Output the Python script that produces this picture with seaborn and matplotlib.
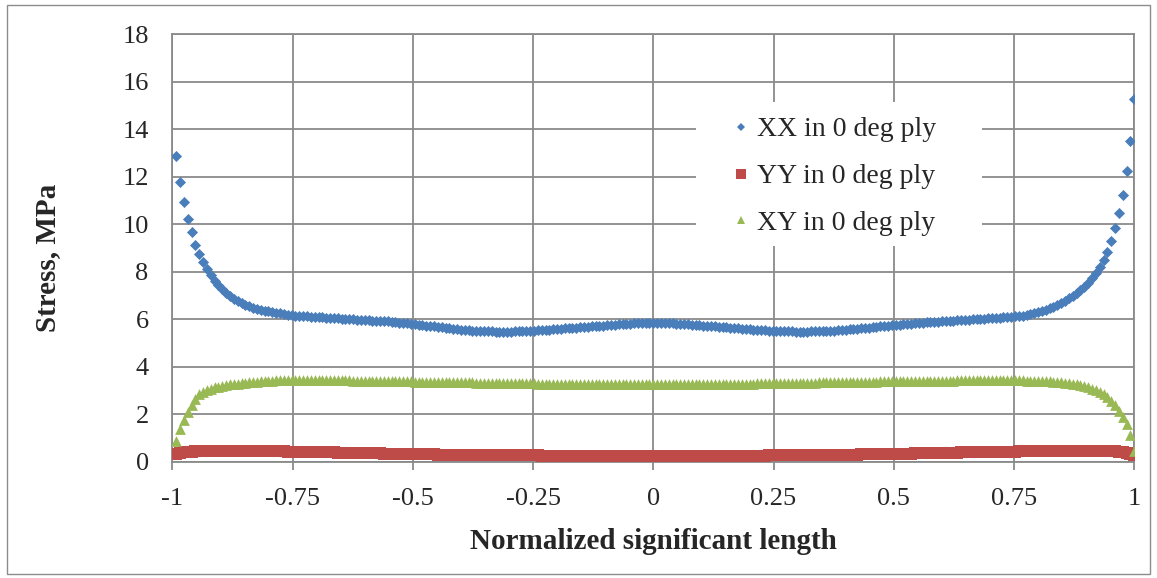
import numpy as np
import pandas as pd
import matplotlib
matplotlib.use("Agg")
import matplotlib.pyplot as plt
from matplotlib.lines import Line2D
from matplotlib.patches import Rectangle
import seaborn as sns

# ---------------- data ----------------
# sample positions along the normalized length (250 stations, step 0.008)
positions = np.round(np.arange(1, 251) * 0.008 - 1.0, 3)

xx_stress = [
    12.87, 11.79, 10.92, 10.22, 9.66, 9.13, 8.73, 8.40, 8.10, 7.85,
    7.63, 7.44, 7.27, 7.12, 6.98, 6.87, 6.77, 6.68, 6.61, 6.55,
    6.49, 6.44, 6.40, 6.36, 6.33, 6.30, 6.27, 6.25, 6.22, 6.20,
    6.18, 6.16, 6.15, 6.13, 6.12, 6.11, 6.10, 6.09, 6.08, 6.07,
    6.06, 6.05, 6.04, 6.03, 6.02, 6.01, 6.00, 5.99, 5.98, 5.97,
    5.96, 5.95, 5.94, 5.93, 5.92, 5.91, 5.89, 5.88, 5.86, 5.85,
    5.83, 5.82, 5.80, 5.78, 5.76, 5.74, 5.72, 5.70, 5.68, 5.66,
    5.64, 5.62, 5.60, 5.59, 5.57, 5.56, 5.54, 5.53, 5.52, 5.51,
    5.50, 5.49, 5.49, 5.48, 5.48, 5.48, 5.48, 5.48, 5.49, 5.49,
    5.50, 5.51, 5.52, 5.53, 5.54, 5.55, 5.56, 5.57, 5.58, 5.59,
    5.60, 5.62, 5.63, 5.64, 5.65, 5.67, 5.68, 5.69, 5.70, 5.72,
    5.73, 5.74, 5.75, 5.77, 5.78, 5.79, 5.80, 5.81, 5.82, 5.83,
    5.84, 5.85, 5.85, 5.86, 5.86, 5.86, 5.85, 5.85, 5.84, 5.83,
    5.82, 5.81, 5.80, 5.79, 5.78, 5.76, 5.75, 5.74, 5.72, 5.71,
    5.70, 5.69, 5.67, 5.66, 5.65, 5.63, 5.62, 5.61, 5.60, 5.58,
    5.57, 5.56, 5.55, 5.54, 5.53, 5.52, 5.51, 5.50, 5.50, 5.49,
    5.49, 5.48, 5.48, 5.48, 5.48, 5.49, 5.49, 5.50, 5.50, 5.51,
    5.52, 5.53, 5.54, 5.55, 5.57, 5.58, 5.59, 5.61, 5.62, 5.64,
    5.65, 5.67, 5.68, 5.70, 5.72, 5.73, 5.75, 5.76, 5.78, 5.79,
    5.80, 5.82, 5.83, 5.84, 5.85, 5.87, 5.88, 5.89, 5.90, 5.91,
    5.93, 5.94, 5.95, 5.96, 5.97, 5.98, 5.99, 6.00, 6.01, 6.02,
    6.03, 6.04, 6.05, 6.06, 6.07, 6.08, 6.09, 6.10, 6.12, 6.14,
    6.16, 6.19, 6.22, 6.26, 6.30, 6.35, 6.41, 6.47, 6.53, 6.60,
    6.68, 6.77, 6.88, 6.99, 7.11, 7.24, 7.38, 7.54, 7.72, 7.93,
    8.20, 8.48, 8.84, 9.31, 9.84, 10.46, 11.24, 12.24, 13.51, 15.27,
]

yy_stress = [
    0.33, 0.37, 0.40, 0.42, 0.44, 0.45, 0.46, 0.46, 0.47, 0.47,
    0.48, 0.48, 0.48, 0.48, 0.48, 0.48, 0.48, 0.48, 0.48, 0.48,
    0.47, 0.47, 0.47, 0.46, 0.46, 0.46, 0.45, 0.45, 0.45, 0.44,
    0.44, 0.43, 0.43, 0.43, 0.42, 0.42, 0.42, 0.41, 0.41, 0.40,
    0.40, 0.40, 0.39, 0.39, 0.39, 0.38, 0.38, 0.38, 0.37, 0.37,
    0.37, 0.36, 0.36, 0.36, 0.35, 0.35, 0.35, 0.34, 0.34, 0.34,
    0.33, 0.33, 0.33, 0.33, 0.32, 0.32, 0.32, 0.32, 0.31, 0.31,
    0.31, 0.31, 0.30, 0.30, 0.30, 0.30, 0.30, 0.29, 0.29, 0.29,
    0.29, 0.29, 0.29, 0.28, 0.28, 0.28, 0.28, 0.28, 0.28, 0.28,
    0.28, 0.28, 0.28, 0.28, 0.28, 0.27, 0.27, 0.27, 0.27, 0.27,
    0.27, 0.27, 0.27, 0.27, 0.27, 0.27, 0.27, 0.27, 0.27, 0.27,
    0.27, 0.27, 0.27, 0.27, 0.27, 0.27, 0.27, 0.27, 0.27, 0.27,
    0.27, 0.27, 0.27, 0.27, 0.27, 0.27, 0.27, 0.27, 0.27, 0.27,
    0.27, 0.27, 0.27, 0.27, 0.27, 0.27, 0.27, 0.27, 0.27, 0.27,
    0.27, 0.27, 0.27, 0.27, 0.27, 0.27, 0.27, 0.27, 0.27, 0.27,
    0.27, 0.27, 0.27, 0.27, 0.28, 0.28, 0.28, 0.28, 0.28, 0.28,
    0.28, 0.28, 0.28, 0.29, 0.29, 0.29, 0.29, 0.29, 0.29, 0.30,
    0.30, 0.30, 0.30, 0.30, 0.31, 0.31, 0.31, 0.31, 0.32, 0.32,
    0.32, 0.32, 0.33, 0.33, 0.33, 0.33, 0.34, 0.34, 0.34, 0.35,
    0.35, 0.35, 0.36, 0.36, 0.36, 0.37, 0.37, 0.37, 0.38, 0.38,
    0.38, 0.39, 0.39, 0.39, 0.40, 0.40, 0.40, 0.41, 0.41, 0.41,
    0.42, 0.42, 0.42, 0.43, 0.43, 0.43, 0.44, 0.44, 0.44, 0.45,
    0.45, 0.45, 0.46, 0.46, 0.46, 0.47, 0.47, 0.47, 0.47, 0.48,
    0.48, 0.48, 0.48, 0.48, 0.48, 0.48, 0.48, 0.48, 0.48, 0.48,
    0.48, 0.47, 0.47, 0.46, 0.45, 0.44, 0.42, 0.39, 0.35, 0.28,
]

xy_stress = [
    0.88, 1.37, 1.77, 2.12, 2.40, 2.64, 2.86, 2.96, 3.03, 3.09,
    3.14, 3.17, 3.20, 3.23, 3.26, 3.28, 3.30, 3.32, 3.34, 3.35,
    3.37, 3.38, 3.39, 3.40, 3.41, 3.42, 3.43, 3.43, 3.44, 3.44,
    3.45, 3.45, 3.45, 3.45, 3.45, 3.45, 3.45, 3.44, 3.44, 3.44,
    3.44, 3.44, 3.43, 3.43, 3.43, 3.43, 3.42, 3.42, 3.42, 3.42,
    3.41, 3.41, 3.41, 3.41, 3.40, 3.40, 3.40, 3.40, 3.39, 3.39,
    3.39, 3.39, 3.38, 3.38, 3.38, 3.38, 3.37, 3.37, 3.37, 3.37,
    3.36, 3.36, 3.36, 3.36, 3.35, 3.35, 3.35, 3.35, 3.34, 3.34,
    3.34, 3.34, 3.33, 3.33, 3.33, 3.33, 3.32, 3.32, 3.32, 3.32,
    3.31, 3.31, 3.31, 3.31, 3.30, 3.30, 3.30, 3.30, 3.30, 3.29,
    3.29, 3.29, 3.29, 3.29, 3.28, 3.28, 3.28, 3.28, 3.28, 3.28,
    3.28, 3.27, 3.27, 3.27, 3.27, 3.27, 3.27, 3.27, 3.27, 3.27,
    3.27, 3.27, 3.27, 3.27, 3.27, 3.27, 3.27, 3.27, 3.27, 3.27,
    3.27, 3.27, 3.27, 3.27, 3.28, 3.28, 3.28, 3.28, 3.28, 3.28,
    3.28, 3.29, 3.29, 3.29, 3.29, 3.29, 3.30, 3.30, 3.30, 3.30,
    3.30, 3.31, 3.31, 3.31, 3.31, 3.32, 3.32, 3.32, 3.32, 3.33,
    3.33, 3.33, 3.33, 3.34, 3.34, 3.34, 3.34, 3.35, 3.35, 3.35,
    3.35, 3.36, 3.36, 3.36, 3.36, 3.37, 3.37, 3.37, 3.37, 3.38,
    3.38, 3.38, 3.38, 3.39, 3.39, 3.39, 3.39, 3.40, 3.40, 3.40,
    3.40, 3.40, 3.41, 3.41, 3.41, 3.41, 3.41, 3.42, 3.42, 3.42,
    3.42, 3.42, 3.42, 3.43, 3.43, 3.43, 3.43, 3.43, 3.43, 3.43,
    3.44, 3.44, 3.44, 3.44, 3.44, 3.44, 3.44, 3.44, 3.43, 3.43,
    3.43, 3.42, 3.42, 3.41, 3.41, 3.40, 3.40, 3.39, 3.38, 3.37,
    3.35, 3.33, 3.31, 3.29, 3.26, 3.23, 3.19, 3.14, 3.09, 3.02,
    2.94, 2.84, 2.72, 2.58, 2.40, 2.16, 1.90, 1.58, 1.12, 0.46,
]

series_names = ["XX in 0 deg ply", "YY in 0 deg ply", "XY in 0 deg ply"]
x_ticks = [-1, -0.75, -0.5, -0.25, 0, 0.25, 0.5, 0.75, 1]
x_tick_labels = ["-1", "-0.75", "-0.5", "-0.25", "0", "0.25", "0.5", "0.75", "1"]
y_ticks = [0, 2, 4, 6, 8, 10, 12, 14, 16, 18]

# ---------------- styling ----------------
colors = {"XX in 0 deg ply": "#4A7EBB", "YY in 0 deg ply": "#BE4B48", "XY in 0 deg ply": "#98B954"}
markers = {"XX in 0 deg ply": "D", "YY in 0 deg ply": "s", "XY in 0 deg ply": "^"}
sizes = {"XX in 0 deg ply": 32, "YY in 0 deg ply": 68, "XY in 0 deg ply": 60}

sns.set_style("white")
plt.rcParams["font.family"] = ["Liberation Serif", "DejaVu Serif"]

W, H = 1157, 578
fig = plt.figure(figsize=(W / 100, H / 100), dpi=100)
ax_left, ax_right, ax_top, ax_bottom = 172.3, 1134.3, 34.0, 462.0
ax = fig.add_axes([ax_left / W, 1 - ax_bottom / H, (ax_right - ax_left) / W, (ax_bottom - ax_top) / H])

frames = []
for name, vals in zip(series_names, [xx_stress, yy_stress, xy_stress]):
    frames.append(pd.DataFrame({"pos": positions, "stress": vals, "series": name}))

grid_col = "#8A8A8A"
ax.set_axisbelow(True)
ax.grid(True, axis="both", color=grid_col, linewidth=1.3)

for df in frames:
    name = df["series"].iloc[0]
    sns.scatterplot(data=df, x="pos", y="stress", ax=ax, color=colors[name],
                    marker=markers[name], s=sizes[name], linewidth=0, legend=False,
                    zorder=3)

ax.set_xlim(-1, 1)
ax.set_ylim(0, 18)
ax.set_xticks(x_ticks)
ax.set_xticklabels(x_tick_labels)
ax.set_yticks(y_ticks)
ax.tick_params(axis="x", direction="out", length=6, width=1.3, color=grid_col,
               pad=13, labelsize=19, bottom=True)
ax.tick_params(axis="y", length=0, pad=17, labelsize=19, left=False)
for sp in ax.spines.values():
    sp.set_color(grid_col)
    sp.set_linewidth(1.3)

ax.set_xlabel("Normalized significant length", fontsize=21, fontweight="bold", labelpad=13)
ax.set_ylabel("Stress, MPa", fontsize=21, fontweight="bold", labelpad=44, y=0.477)

# white legend panel (covers the gridlines)
panel = Rectangle((0.544, 0.505), 0.298, 0.336, transform=ax.transAxes,
                  facecolor="white", edgecolor="none", zorder=1)
ax.add_patch(panel)

handles = [
    Line2D([], [], linestyle="none", marker="D", markersize=4.4, color=colors[series_names[0]], markeredgewidth=0),
    Line2D([], [], linestyle="none", marker="s", markersize=7.0, color=colors[series_names[1]], markeredgewidth=0),
    Line2D([], [], linestyle="none", marker="^", markersize=6.2, color=colors[series_names[2]], markeredgewidth=0),
]
leg = ax.legend(handles, series_names, loc="upper left", bbox_to_anchor=(0.568, 0.832),
                frameon=False, fontsize=20, handlelength=0.8, handletextpad=0.18,
                labelspacing=0.77, borderpad=0.4, borderaxespad=0)
leg.set_zorder(5)

# chart-area border
fig.patches.append(Rectangle((7 / W, 1 - 574 / H), (1150 - 7) / W, (574 - 5) / H,
                             transform=fig.transFigure, fill=False,
                             edgecolor="#8C8C8C", linewidth=1.0))

fig.savefig("out.png", dpi=100, facecolor="white")
